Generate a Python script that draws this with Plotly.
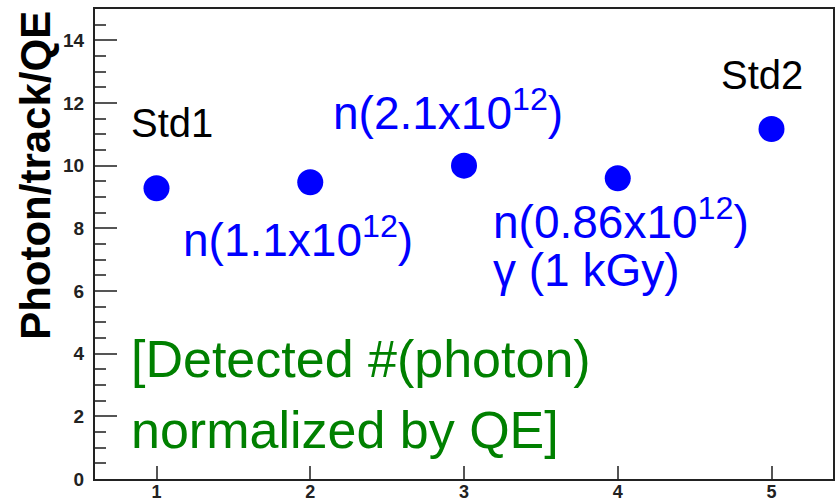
import plotly.graph_objects as go

# Measured photon yield per track, normalized by QE, for each sample
sample_index = [1, 2, 3, 4, 5]
photon_per_track_qe = [9.28, 9.47, 10.0, 9.6, 11.17]

y_ticks = [0, 2, 4, 6, 8, 10, 12, 14]
x_ticks = [1, 2, 3, 4, 5]

FONT = "Liberation Sans, Arial, Helvetica, sans-serif"
BLUE = "#0000ff"
GREEN = "#008000"

fig = go.Figure()
fig.add_trace(go.Scatter(
    x=sample_index,
    y=photon_per_track_qe,
    mode="markers",
    marker=dict(size=26, color=BLUE, line=dict(width=0)),
    showlegend=False,
    hoverinfo="x+y",
))

# Sample labels next to each point
labels = [
    dict(text="Std1", x=0.82, y=11.35, color="black", size=40),
    dict(text="Std2", x=4.66, y=12.9, color="black", size=40),
    dict(text="n(1.1x10<sup>12</sup>)", x=1.16, y=7.72, color=BLUE, size=46),
    dict(text="n(2.1x10<sup>12</sup>)", x=2.135, y=11.77, color=BLUE, size=46),
    dict(text="n(0.86x10<sup>12</sup>)", x=3.175, y=8.31, color=BLUE, size=46),
    dict(text="γ (1 kGy)", x=3.175, y=6.68, color=BLUE, size=46),
    dict(text="[Detected #(photon)", x=0.82, y=3.84, color=GREEN, size=52),
    dict(text="normalized by QE]", x=0.82, y=1.57, color=GREEN, size=52),
]
for lab in labels:
    fig.add_annotation(
        x=lab["x"], y=lab["y"], xref="x", yref="y",
        text=lab["text"], showarrow=False,
        xanchor="left", yanchor="middle",
        font=dict(family=FONT, size=lab["size"], color=lab["color"]),
    )

# Y-axis title placed in the upper part of the left margin
fig.add_annotation(
    x=-0.08, y=0.647, xref="paper", yref="paper",
    text="<b>Photon/track/QE</b>", textangle=-90, showarrow=False,
    xanchor="center", yanchor="middle",
    font=dict(family=FONT, size=42, color="black"),
)

axis_common = dict(
    showgrid=False, zeroline=False, automargin=False,
    showline=True, linecolor="#222", linewidth=2, mirror=True,
    ticks="inside", tickcolor="#555", tickwidth=2,
)

fig.update_xaxes(
    range=[0.6, 5.4], tickvals=x_ticks, ticklen=13,
    ticklabelstandoff=-5,
    tickfont=dict(family=FONT, size=18, color="#222", weight="bold"),
    **axis_common,
)
fig.update_yaxes(
    range=[0, 15], tickvals=y_ticks, ticklen=22,
    ticklabelstandoff=5,
    tickfont=dict(family=FONT, size=19, color="#222", weight="bold"),
    minor=dict(ticks="inside", ticklen=11, dtick=0.5, tickcolor="#555", tickwidth=2),
    **axis_common,
)

fig.update_layout(
    width=837, height=501,
    margin=dict(l=95, r=4, t=9, b=22),
    paper_bgcolor="white", plot_bgcolor="white",
    font=dict(family=FONT),
)

fig.write_html("out.html")
